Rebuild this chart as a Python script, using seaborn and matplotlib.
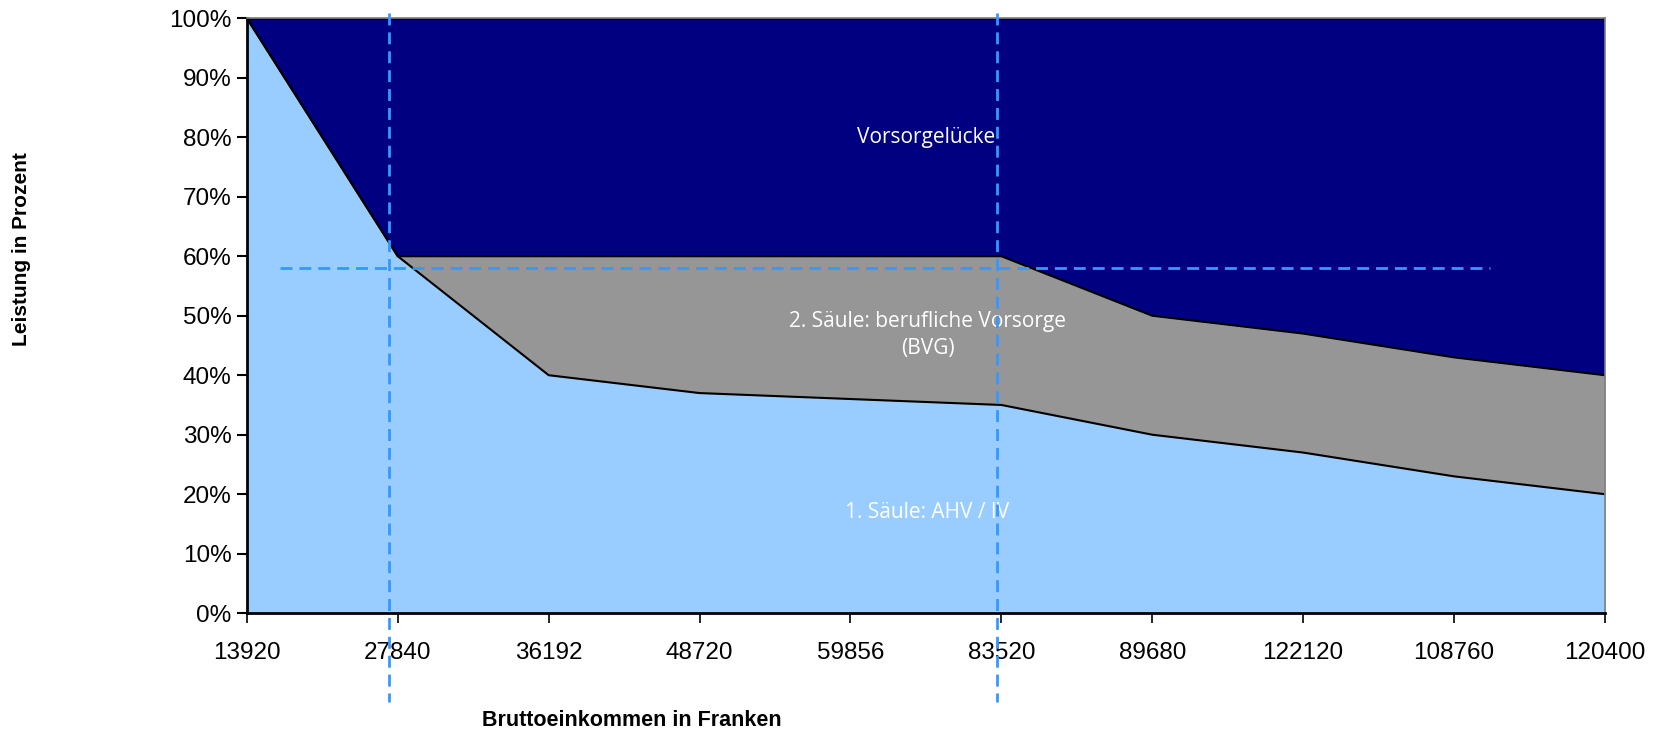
import matplotlib
matplotlib.use("Agg")
import matplotlib.pyplot as plt
from matplotlib.ticker import PercentFormatter
import numpy as np
import pandas as pd
import seaborn as sns

# Gross income steps (shown as categories, in the order listed)
einkommen = ["13920", "27840", "36192", "48720", "59856", "83520",
             "89680", "122120", "108760", "120400"]
# 1st pillar AHV/IV benefit, share of income
ahv_iv = [1.00, 0.60, 0.40, 0.37, 0.36, 0.35, 0.30, 0.27, 0.23, 0.20]
# AHV/IV + BVG combined
ahv_bvg = [1.00, 0.60, 0.60, 0.60, 0.60, 0.60, 0.50, 0.47, 0.43, 0.40]
ziel = 0.58  # target replacement level

sns.set_theme(style="white")
plt.rcParams["font.family"] = ["Liberation Sans", "DejaVu Sans"]

df = pd.DataFrame({"pos": np.arange(len(einkommen)), "ahv": ahv_iv, "total": ahv_bvg})

fig = plt.figure(figsize=(16.57, 7.30), dpi=100)
ax = fig.add_axes([0.149, 0.160, 0.8196, 0.815])

navy = "#000080"
grau = "#969696"
hellblau = "#99CCFF"
strich = "#3399FF"

ax.fill_between(df["pos"], 0, 1.0, color=navy, lw=0)
ax.fill_between(df["pos"], 0, df["total"], color=grau, lw=0)
ax.fill_between(df["pos"], 0, df["ahv"], color=hellblau, lw=0)
sns.lineplot(data=df, x="pos", y="total", color="black", lw=1.5, ax=ax)
sns.lineplot(data=df, x="pos", y="ahv", color="black", lw=1.5, ax=ax)
ax.axhline(1.0, color="black", lw=2)

ax.set_xlim(0, len(einkommen) - 1)
ax.set_ylim(0, 1.0)

# reference lines
dash = dict(ls=(0, (4.3, 2.5)), color=strich, lw=2, zorder=5)
ax.plot([0.945, 0.945], [1.009, -0.15], clip_on=False, **dash)
ax.plot([4.97, 4.97], [1.009, -0.15], clip_on=False, **dash)
ax.plot([0.22, 8.24], [ziel, ziel], **dash)

# area labels
txt = dict(color="white", ha="center", va="center", fontsize=15, family=["Open Sans", "DejaVu Sans"])
ax.text(4.50, 0.80, "Vorsorgelücke", **txt)
ax.text(4.51, 0.468, "2. Säule: berufliche Vorsorge\n(BVG)", linespacing=1.35, **txt)
ax.text(4.51, 0.17, "1. Säule: AHV / IV", **txt)

ax.set_xticks(df["pos"])
ax.set_xticklabels(einkommen, fontsize=17.5)
ax.set_yticks(np.arange(0, 1.01, 0.1))
ax.yaxis.set_major_formatter(PercentFormatter(1.0, decimals=0))
ax.tick_params(axis="y", labelsize=17.5, length=7, width=1.5, color="black", direction="out", left=True, pad=4)
ax.tick_params(axis="x", length=7, width=1.2, color="black", direction="out", bottom=True, pad=14)
for lab in ax.get_yticklabels() + ax.get_xticklabels():
    lab.set_color("black")

for s in ["left", "bottom"]:
    ax.spines[s].set_color("black")
    ax.spines[s].set_linewidth(2)
for s in ["right", "top"]:
    ax.spines[s].set_color("#808080")
    ax.spines[s].set_linewidth(1.2)
ax.set_xlabel("")
ax.set_ylabel("")

fig.text(0.381, 0.013, "Bruttoeinkommen in Franken", ha="center", va="center",
         fontsize=15.5, fontweight="bold", color="black")
fig.text(0.013, 0.659, "Leistung in Prozent", rotation=90, ha="center", va="center",
         fontsize=15, fontweight="bold", color="black")

fig.savefig("out.png", dpi=100)
